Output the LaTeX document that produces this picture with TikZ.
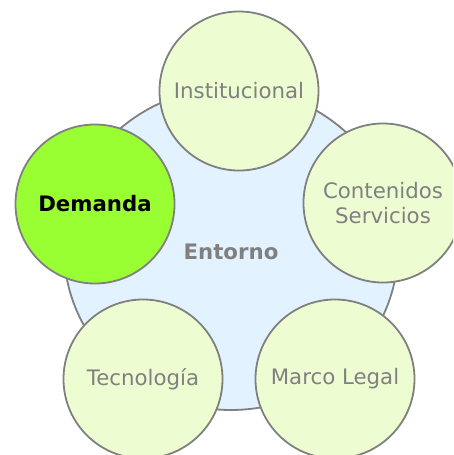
\documentclass[tikz,border=0pt]{standalone}
\usepackage{fontspec}
\setmainfont{DejaVu Sans}
\usepackage{xcolor}
\definecolor{borde}{HTML}{808080}
\definecolor{fondo}{HTML}{E3F2FF}
\definecolor{claro}{HTML}{EEFCD2}
\definecolor{vivo}{HTML}{99FF33}
\tikzset{
  satelite/.style={circle, draw=borde, line width=1.8pt, fill=claro,
    minimum size=159pt, inner sep=0pt, align=center, text=borde,
    font=\fontsize{21.3}{25.7}\selectfont},
  activo/.style={satelite, fill=vivo, text=black, font=\fontsize{21.3}{25.7}\selectfont\bfseries}
}

\begin{document}
\begin{tikzpicture}[x=1pt,y=-1pt]
\clip (0,0) rectangle (453,455);
\fill[white] (0,0) rectangle (453,455);

\draw[borde, line width=1.8pt, fill=fondo] (231,249) ellipse [x radius=167, y radius=161];
\node[text=borde, font=\fontsize{21.3}{25.7}\selectfont\bfseries] (entorno) at (231,252) {Entorno};

\foreach \px/\py/\nombre/\texto in {239/91/inst/Institucional,
    383/203/cont/{Contenidos\\Servicios}, 143/379/tec/Tecnología, 335/379/marco/Marco Legal}{
\node[satelite] (\nombre) at (\px,\py) {\texto};
}
\node[activo] (dem) at (95,204) {Demanda};
\end{tikzpicture}
\end{document}
